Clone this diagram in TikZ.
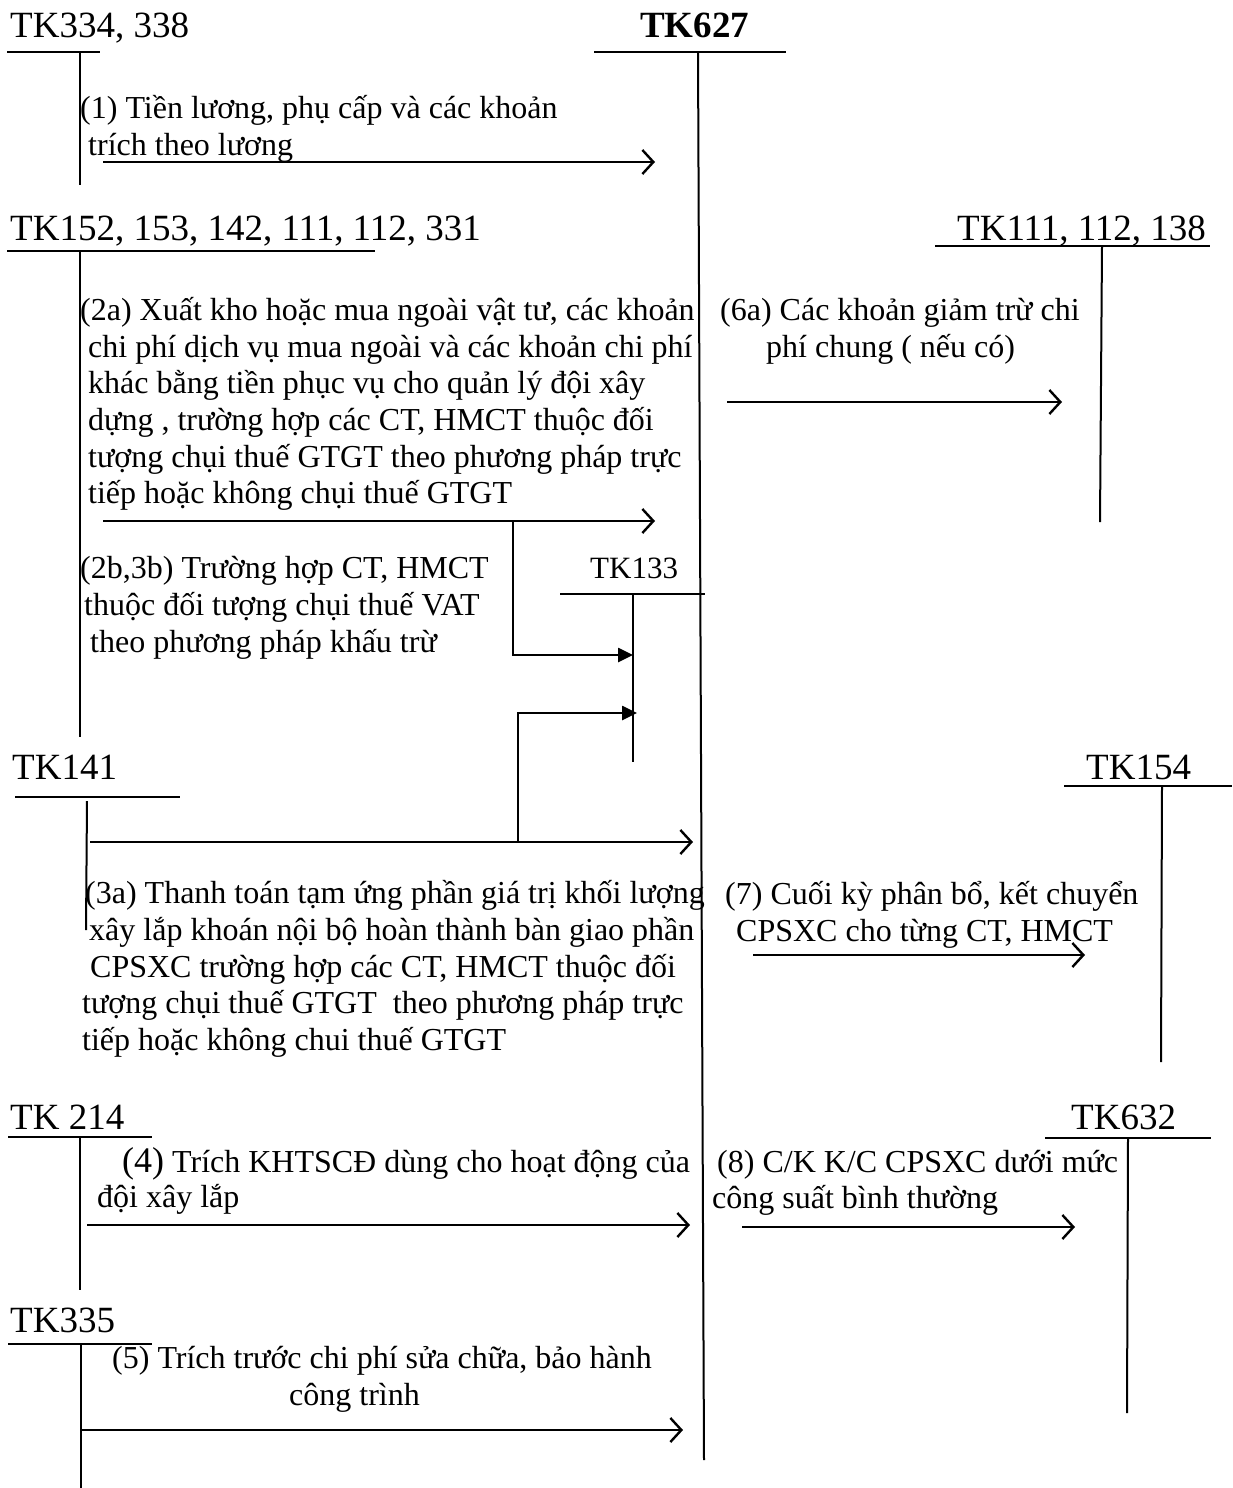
\documentclass[tikz,border=0pt]{standalone}
\usepackage{fontspec}
\setmainfont{Liberation Serif}
\usetikzlibrary{arrows.meta}

\tikzset{
  acct/.style={inner sep=0pt, anchor=base west, font=\fontsize{37}{42}\selectfont},
  note/.style={inner sep=0pt, anchor=base west, font=\fontsize{32}{37}\selectfont},
  tline/.style={line width=2pt},
  flow/.style={line width=2.6pt, -{Straight Barb[length=11pt,width=24pt,line width=2.4pt]}},
  vatflow/.style={line width=2.6pt, -{Triangle[length=15pt,width=14pt]}}
}

\begin{document}
\begin{tikzpicture}[x=1pt,y=-1pt]
\useasboundingbox (0,0) rectangle (1232,1488);

% account titles
\node[acct] (t334) at (10,38) {TK334, 338};
\node[acct] (t627) at (640,38) {\textbf{TK627}};
\node[acct] (t152) at (10,240) {TK152, 153, 142, 111, 112, 331};
\node[acct] (t111) at (957,240) {TK111, 112, 138};
\node[acct, font=\fontsize{31}{36}\selectfont] (t133) at (590,578) {TK133};
\node[acct] (t141) at (12,779) {TK141};
\node[acct] (t154) at (1086,779) {TK154};
\node[acct] (t214) at (10,1129) {TK 214};
\node[acct] (t632) at (1071,1129) {TK632};
\node[acct] (t335) at (10,1332) {TK335};

% T accounts
\draw[tline] (7,52)--(100,52);
\draw[tline] (80,52)--(80,185);
\draw[tline] (594,52)--(786,52);
\draw[tline] (698,52)--(704,1460);
\draw[tline] (7,251)--(375,251);
\draw[tline] (80,251)--(80,737);
\draw[tline] (935,246)--(1210,246);
\draw[tline] (1102,246)--(1100,522);
\draw[tline] (560,594)--(705,594);
\draw[tline] (633,594)--(633,762);
\draw[tline] (15,797)--(180,797);
\draw[tline] (87,801)--(86,930);
\draw[tline] (1064,786)--(1232,786);
\draw[tline] (1162,786)--(1161,1062);
\draw[tline] (8,1137)--(152,1137);
\draw[tline] (80,1137)--(80,1290);
\draw[tline] (1045,1138)--(1211,1138);
\draw[tline] (1128,1138)--(1127,1413);
\draw[tline] (8,1344)--(152,1344);
\draw[tline] (81,1344)--(81,1488);

% texts
\node[note] (l1a) at (80,118) {(1) Tiền lương, phụ cấp và các khoản};
\node[note] (l1b) at (88,155) {trích theo lương};

\node[note] (l2a) at (80,320) {(2a) Xuất kho hoặc mua ngoài vật tư, các khoản};
\node[note] (l2b) at (88,357) {chi phí dịch vụ mua ngoài và các khoản chi phí};
\node[note] (l2c) at (88,393) {khác bằng tiền phục vụ cho quản lý đội xây};
\node[note] (l2d) at (88,430) {dựng , trường hợp các CT, HMCT thuộc đối};
\node[note] (l2e) at (88,467) {tượng chụi thuế GTGT theo phương pháp trực};
\node[note] (l2f) at (88,503) {tiếp hoặc không chụi thuế GTGT};

\node[note] (l6a) at (720,320) {(6a) Các khoản giảm trừ chi};
\node[note] (l6b) at (766,357) {phí chung ( nếu có)};

\node[note] (l2ba) at (80,578) {(2b,3b) Trường hợp CT, HMCT};
\node[note] (l2bb) at (84,615) {thuộc đối tượng chụi thuế VAT};
\node[note] (l2bc) at (90,652) {theo phương pháp khấu trừ};

\node[note] (l3a) at (85,903) {(3a) Thanh toán tạm ứng phần giá trị khối lượng};
\node[note] (l3b) at (89,940) {xây lắp khoán nội bộ hoàn thành bàn giao phần};
\node[note] (l3c) at (90,977) {CPSXC trường hợp các CT, HMCT thuộc đối};
\node[note] (l3d) at (82,1013) {tượng chụi thuế GTGT\ \ theo phương pháp trực};
\node[note] (l3e) at (82,1050) {tiếp hoặc không chui thuế GTGT};

\node[note] (l7a) at (725,904) {(7) Cuối kỳ phân bổ, kết chuyển};
\node[note] (l7b) at (736,941) {CPSXC cho từng CT, HMCT};

\node[note] (l4a) at (122,1172) {{\fontsize{36}{40}\selectfont(4)} Trích KHTSCĐ dùng cho hoạt động của};
\node[note] (l4b) at (97,1207) {đội xây lắp};

\node[note] (l8a) at (717,1172) {(8) C/K K/C CPSXC dưới mức};
\node[note] (l8b) at (712,1208) {công suất bình thường};

\node[note] (l5a) at (112,1368) {(5) Trích trước chi phí sửa chữa, bảo hành};
\node[note] (l5b) at (289,1405) {công trình};

% arrow ends
\coordinate (a1s) at (103,162);   \coordinate (a1e) at (655,162);
\coordinate (a2s) at (103,521);   \coordinate (a2e) at (655,521);
\coordinate (a6s) at (727,402);   \coordinate (a6e) at (1062,402);
\coordinate (b1s) at (513,521);   \coordinate (b1c) at (513,655);
\coordinate (b1e) at (633,655);
\coordinate (a3s) at (90,842);    \coordinate (a3e) at (693,842);
\coordinate (b2s) at (518,842);   \coordinate (b2c) at (518,713);
\coordinate (b2e) at (637,713);
\coordinate (a7s) at (753,955);   \coordinate (a7e) at (1085,955);
\coordinate (a4s) at (87,1225);   \coordinate (a4e) at (690,1225);
\coordinate (a8s) at (742,1227);  \coordinate (a8e) at (1075,1227);
\coordinate (a5s) at (81,1430);   \coordinate (a5e) at (683,1430);

% arrows
\draw[flow] (a1s) -- (a1e);
\draw[flow] (a2s) -- (a2e);
\draw[flow] (a6s) -- (a6e);
\draw[vatflow] (b1s) -- (b1c) -- (b1e);
\draw[flow] (a3s) -- (a3e);
\draw[vatflow] (b2s) -- (b2c) -- (b2e);
\draw[flow] (a7s) -- (a7e);
\draw[flow] (a4s) -- (a4e);
\draw[flow] (a8s) -- (a8e);
\draw[flow] (a5s) -- (a5e);
\end{tikzpicture}
\end{document}
